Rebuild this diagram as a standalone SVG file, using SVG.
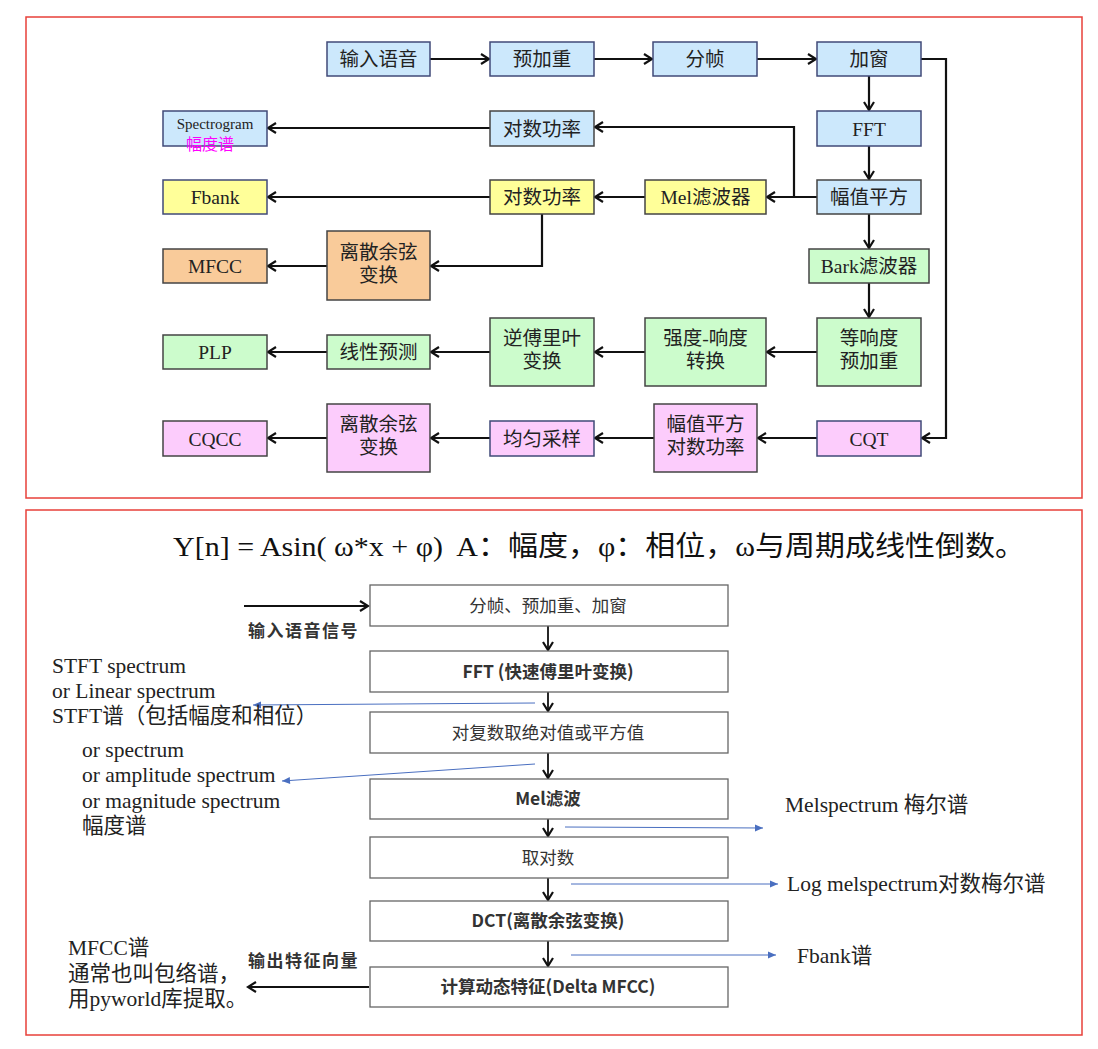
<svg xmlns="http://www.w3.org/2000/svg" width="1098" height="1049" viewBox="0 0 1098 1049">
<defs>
<marker id="ah" markerWidth="12" markerHeight="12" refX="10" refY="6" orient="auto" markerUnits="userSpaceOnUse">
<path d="M2,1 L10,6 L2,11" fill="none" stroke="#111" stroke-width="2.2"/>
</marker>
<marker id="ab" markerWidth="10" markerHeight="10" refX="9" refY="5" orient="auto" markerUnits="userSpaceOnUse">
<path d="M1,1.5 L9,5 L1,8.5 Z" fill="#4a6fc0"/>
</marker>
<style>
.frame{fill:none;stroke:#e8403a;stroke-width:1.5}
.bx{stroke:#404a78;stroke-width:1.5}
.gx{stroke:#444;stroke-width:1.5}
.blue{fill:#cce8fc}
.yel{fill:#ffff99}
.org{fill:#f9cb9a}
.grn{fill:#ccfccc}
.pnk{fill:#fcccfc}
.t{font-family:"Liberation Serif","Noto Sans CJK SC",serif;font-size:19.5px;fill:#222;text-anchor:middle}
.c{stroke:#111;stroke-width:2.2;fill:none;marker-end:url(#ah)}
.w{fill:#fff;stroke:#666;stroke-width:1.3}
.s{font-family:"Noto Sans CJK SC","Liberation Sans",sans-serif;font-size:17.5px;fill:#333;text-anchor:middle}
.sb{font-weight:bold}
.r{font-family:"Liberation Serif","Noto Sans CJK SC",serif;font-size:21.5px;fill:#222}
.lb{font-family:"Noto Sans CJK SC",sans-serif;font-size:17px;font-weight:bold;fill:#333;letter-spacing:1.5px}
.bl{stroke:#4a6fc0;stroke-width:1;fill:none;marker-end:url(#ab)}
.c2{stroke:#111;stroke-width:1.8;fill:none;marker-end:url(#ah)}
</style>
</defs>
<rect x="0" y="0" width="1098" height="1049" fill="#fff"/>
<rect class="frame" x="26" y="17" width="1056" height="481"/>
<rect class="frame" x="26" y="510" width="1056" height="525"/>

<g id="connectors">
<line class="c" x1="430" y1="59" x2="489" y2="59"/>
<line class="c" x1="594" y1="59" x2="652" y2="59"/>
<line class="c" x1="757" y1="59" x2="816" y2="59"/>
<line class="c" x1="869" y1="76" x2="869" y2="110"/>
<line class="c" x1="869" y1="146" x2="869" y2="179"/>
<line class="c" x1="817" y1="197" x2="767" y2="197"/>
<polyline class="c" points="794,197 794,127 595,127"/>
<line class="c" x1="490" y1="128" x2="268" y2="128"/>
<line class="c" x1="645" y1="197" x2="595" y2="197"/>
<line class="c" x1="490" y1="197" x2="268" y2="197"/>
<polyline class="c" points="542,214 542,266 431,266"/>
<line class="c" x1="327" y1="266" x2="268" y2="266"/>
<line class="c" x1="869" y1="214" x2="869" y2="248"/>
<line class="c" x1="869" y1="283" x2="869" y2="317"/>
<line class="c" x1="817" y1="352" x2="767" y2="352"/>
<line class="c" x1="645" y1="352" x2="595" y2="352"/>
<line class="c" x1="490" y1="352" x2="431" y2="352"/>
<line class="c" x1="327" y1="352" x2="268" y2="352"/>
<polyline class="c" points="921,59 946,59 946,438 922,438"/>
<line class="c" x1="817" y1="438" x2="758" y2="438"/>
<line class="c" x1="654" y1="438" x2="595" y2="438"/>
<line class="c" x1="490" y1="438" x2="431" y2="438"/>
<line class="c" x1="327" y1="438" x2="268" y2="438"/>

<line class="c2" x1="244" y1="606" x2="368" y2="606"/>
<line class="c2" x1="548" y1="626" x2="548" y2="650"/>
<line class="c2" x1="548" y1="692" x2="548" y2="711"/>
<line class="c2" x1="548" y1="753" x2="548" y2="778"/>
<line class="c2" x1="548" y1="819" x2="548" y2="836"/>
<line class="c2" x1="548" y1="878" x2="548" y2="900"/>
<line class="c2" x1="548" y1="941" x2="548" y2="966"/>
<line class="c2" x1="369" y1="987" x2="248" y2="987"/>

<line class="bl" x1="535" y1="703" x2="253" y2="705"/>
<line class="bl" x1="535" y1="764" x2="282" y2="781"/>
<line class="bl" x1="565" y1="827" x2="763" y2="828"/>
<line class="bl" x1="571" y1="884" x2="778" y2="884"/>
<line class="bl" x1="571" y1="955" x2="776" y2="955"/>
</g>

<g id="n-input"><rect class="blue bx" x="327" y="42" width="103" height="34"/><text class="t" x="378.5" y="66">输入语音</text></g>
<g id="n-preemph"><rect class="blue bx" x="490" y="42" width="104" height="34"/><text class="t" x="542" y="66">预加重</text></g>
<g id="n-frame"><rect class="blue bx" x="653" y="42" width="104" height="34"/><text class="t" x="705" y="66">分帧</text></g>
<g id="n-window"><rect class="blue bx" x="817" y="42" width="104" height="34"/><text class="t" x="869" y="66">加窗</text></g>
<g id="n-fft"><rect class="blue bx" x="817" y="111" width="104" height="35"/><text class="t" x="869" y="135.5">FFT</text></g>
<g id="n-mag"><rect class="blue gx" x="817" y="180" width="104" height="34"/><text class="t" x="869" y="204">幅值平方</text></g>
<g id="n-logpow1"><rect class="blue gx" x="490" y="111" width="104" height="35"/><text class="t" x="542" y="135.5">对数功率</text></g>
<g id="n-spectrogram"><rect class="blue bx" x="163" y="111" width="104" height="35"/><text x="215" y="128.5" style="font-family:'Liberation Serif',serif;font-size:15px;fill:#222;text-anchor:middle">Spectrogram</text><text x="210" y="149.5" style="font-family:'Noto Sans CJK SC',sans-serif;font-size:16px;fill:#f0f;text-anchor:middle">幅度谱</text></g>
<g id="n-mel"><rect class="yel gx" x="645" y="180" width="121" height="34"/><text class="t" x="705.5" y="204">Mel滤波器</text></g>
<g id="n-logpow2"><rect class="yel gx" x="490" y="180" width="104" height="34"/><text class="t" x="542" y="204">对数功率</text></g>
<g id="n-fbank"><rect class="yel bx" x="163" y="180" width="104" height="34"/><text class="t" x="215" y="204">Fbank</text></g>
<g id="n-dct1"><rect class="org gx" x="327" y="231" width="103" height="69"/><text class="t" x="378.5" y="259">离散余弦</text><text class="t" x="378.5" y="282">变换</text></g>
<g id="n-mfcc"><rect class="org gx" x="163" y="249" width="104" height="34"/><text class="t" x="215" y="273">MFCC</text></g>
<g id="n-bark"><rect class="grn gx" x="809" y="249" width="120" height="34"/><text class="t" x="869" y="273">Bark滤波器</text></g>
<g id="n-equal"><rect class="grn gx" x="817" y="318" width="104" height="68"/><text class="t" x="869" y="345">等响度</text><text class="t" x="869" y="368">预加重</text></g>
<g id="n-intensity"><rect class="grn gx" x="645" y="318" width="121" height="68"/><text class="t" x="705.5" y="345">强度-响度</text><text class="t" x="705.5" y="368">转换</text></g>
<g id="n-ifft"><rect class="grn gx" x="490" y="318" width="104" height="68"/><text class="t" x="542" y="345">逆傅里叶</text><text class="t" x="542" y="368">变换</text></g>
<g id="n-lpc"><rect class="grn gx" x="327" y="335" width="103" height="34"/><text class="t" x="378.5" y="359">线性预测</text></g>
<g id="n-plp"><rect class="grn gx" x="163" y="335" width="104" height="34"/><text class="t" x="215" y="359">PLP</text></g>
<g id="n-cqt"><rect class="pnk bx" x="817" y="421" width="104" height="35"/><text class="t" x="869" y="445.5">CQT</text></g>
<g id="n-maglog"><rect class="pnk gx" x="654" y="404" width="103" height="68"/><text class="t" x="705.5" y="431">幅值平方</text><text class="t" x="705.5" y="454">对数功率</text></g>
<g id="n-resample"><rect class="pnk bx" x="490" y="421" width="104" height="35"/><text class="t" x="542" y="445.5">均匀采样</text></g>
<g id="n-dct2"><rect class="pnk gx" x="327" y="404" width="103" height="68"/><text class="t" x="378.5" y="431">离散余弦</text><text class="t" x="378.5" y="454">变换</text></g>
<g id="n-cqcc"><rect class="pnk gx" x="163" y="421" width="104" height="35"/><text class="t" x="215" y="445.5">CQCC</text></g>

<g id="formula"><text x="173" y="556" textLength="852" lengthAdjust="spacingAndGlyphs" style="font-family:'Liberation Serif','Noto Sans CJK SC',serif;font-size:28px;fill:#111;white-space:pre" xml:space="preserve">Y[n] = Asin( ω*x + φ)  A：幅度，φ：相位，ω与周期成线性倒数。</text></g>

<g id="b-frame"><rect class="w" x="370" y="585" width="358" height="41"/><text class="s" x="548" y="612">分帧、预加重、加窗</text></g>
<g id="b-fft"><rect class="w" x="370" y="651" width="358" height="41"/><text class="s sb" x="548" y="678">FFT (快速傅里叶变换)</text></g>
<g id="b-abs"><rect class="w" x="370" y="712" width="358" height="41"/><text class="s" x="548" y="739">对复数取绝对值或平方值</text></g>
<g id="b-mel"><rect class="w" x="370" y="779" width="358" height="40"/><text class="s sb" x="548" y="805">Mel滤波</text></g>
<g id="b-log"><rect class="w" x="370" y="837" width="358" height="41"/><text class="s" x="548" y="864">取对数</text></g>
<g id="b-dct"><rect class="w" x="370" y="901" width="358" height="40"/><text class="s sb" x="548" y="927">DCT(离散余弦变换)</text></g>
<g id="b-delta"><rect class="w" x="370" y="967" width="358" height="40"/><text class="s" x="548" y="993" style="font-weight:600">计算动态特征(Delta MFCC)</text></g>

<g id="labels">
<text class="lb" x="248" y="637">输入语音信号</text>
<text class="lb" x="248" y="967">输出特征向量</text>
<text class="r" x="52" y="673">STFT spectrum</text>
<text class="r" x="52" y="698">or Linear spectrum</text>
<text class="r" x="52" y="723">STFT谱（包括幅度和相位）</text>
<text class="r" x="82" y="757">or spectrum</text>
<text class="r" x="82" y="782">or amplitude spectrum</text>
<text class="r" x="82" y="808">or magnitude spectrum</text>
<text class="r" x="82" y="833">幅度谱</text>
<text class="r" x="785" y="812">Melspectrum 梅尔谱</text>
<text class="r" x="787" y="891">Log melspectrum对数梅尔谱</text>
<text class="r" x="797" y="963">Fbank谱</text>
<text class="r" x="68" y="955">MFCC谱</text>
<text class="r" x="68" y="981">通常也叫包络谱，</text>
<text class="r" x="68" y="1006">用pyworld库提取。</text>
</g>
</svg>
